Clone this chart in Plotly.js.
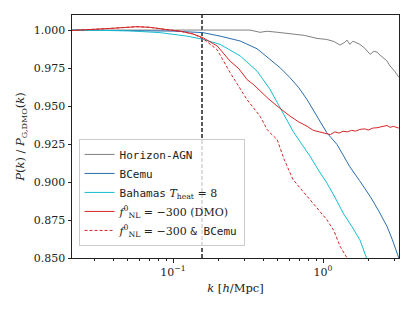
<!DOCTYPE html>
<html><head><meta charset="utf-8">
<script src="https://cdn.plot.ly/plotly-3.0.1.min.js"></script>
<style>html,body{margin:0;padding:0;background:#fff}#chart{width:415px;height:311px}</style>
</head><body><div id="chart"></div>
<script>
// Horizon-AGN
const kHz = [0.021, 0.05, 0.1, 0.158, 0.25, 0.326, 0.38, 0.424, 0.5, 0.631, 0.75, 0.912, 1.06, 1.18, 1.30, 1.40, 1.445, 1.51, 1.585, 1.68, 1.76, 1.9, 2.06, 2.18, 2.29, 2.4, 2.51, 2.65, 2.80, 3.0, 3.2];
const pHz = [1.000, 1.000, 1.000, 1.000, 1.0002, 1.0000, 0.9985, 0.9992, 0.9985, 0.9976, 0.9965, 0.9945, 0.9938, 0.9925, 0.9901, 0.9920, 0.9934, 0.9906, 0.9927, 0.9915, 0.9906, 0.9880, 0.9840, 0.9860, 0.9855, 0.9835, 0.9818, 0.9800, 0.9763, 0.9730, 0.9690];
// BCemu
const kBC = [0.021, 0.05, 0.1, 0.158, 0.206, 0.280, 0.363, 0.443, 0.52, 0.603, 0.69, 0.782, 0.912, 1.06, 1.24, 1.51, 1.75, 2.06, 2.35, 2.67, 2.9, 3.2];
const pBC = [1.000, 0.9998, 0.9993, 0.9983, 0.9960, 0.9928, 0.9877, 0.9807, 0.9750, 0.9686, 0.9620, 0.9543, 0.9433, 0.9324, 0.9247, 0.9100, 0.9010, 0.8906, 0.8810, 0.8708, 0.8620, 0.8500];
// Bahamas T_heat = 8
const kBH = [0.021, 0.05, 0.0819, 0.124, 0.158, 0.206, 0.280, 0.363, 0.443, 0.541, 0.631, 0.72, 0.819, 0.93, 1.06, 1.20, 1.36, 1.55, 1.76, 1.95];
const pBH = [1.000, 0.9995, 0.9983, 0.9960, 0.9939, 0.9906, 0.9830, 0.9730, 0.9610, 0.9457, 0.9334, 0.9250, 0.9170, 0.9080, 0.8994, 0.8900, 0.8797, 0.8710, 0.8620, 0.8500];
// f_NL = -300 (DMO)
const kNL = [0.021, 0.03, 0.04, 0.0575, 0.07, 0.0955, 0.111, 0.135, 0.158, 0.197, 0.24, 0.275, 0.311, 0.345, 0.38, 0.43, 0.494, 0.545, 0.603, 0.69, 0.782, 0.86, 0.95, 1.06, 1.12, 1.2, 1.28, 1.36, 1.45, 1.55, 1.65, 1.76, 1.9, 2.0, 2.15, 2.29, 2.45, 2.55, 2.67, 2.8, 2.95, 3.2];
const pNL = [0.9997, 1.0003, 1.0012, 1.0022, 1.0018, 1.0000, 0.9993, 0.9975, 0.9950, 0.9895, 0.9796, 0.9745, 0.9675, 0.9640, 0.9598, 0.9550, 0.9500, 0.9465, 0.9433, 0.9395, 0.9367, 0.9340, 0.9330, 0.9320, 0.9312, 0.9330, 0.9322, 0.9334, 0.9330, 0.9340, 0.9335, 0.9346, 0.9350, 0.9342, 0.9355, 0.9357, 0.9365, 0.9370, 0.9372, 0.9360, 0.9366, 0.9355];
// f_NL = -300 & BCemu
const kNB = [0.021, 0.03, 0.04, 0.0575, 0.07, 0.0955, 0.111, 0.135, 0.158, 0.197, 0.24, 0.311, 0.38, 0.424, 0.443, 0.494, 0.55, 0.631, 0.72, 0.819, 0.93, 1.06, 1.18, 1.30, 1.445];
const pNB = [0.9997, 1.0003, 1.0012, 1.0022, 1.0018, 1.0000, 0.9993, 0.9975, 0.9945, 0.9870, 0.9720, 0.9543, 0.9433, 0.9346, 0.9324, 0.9280, 0.9150, 0.9016, 0.8950, 0.8884, 0.8820, 0.8752, 0.8680, 0.8577, 0.8500];
const kCut = 0.156;
const yTicks = [0.850, 0.875, 0.900, 0.925, 0.950, 0.975, 1.000];
const xTicks = [0.1, 1];
const xTickText = ['10<sup>−1</sup>', '10<sup>0</sup>'];
const xMinor = [0.03,0.04,0.05,0.06,0.07,0.08,0.09,0.2,0.3,0.4,0.5,0.6,0.7,0.8,0.9,2,3];

const mono = '<span style="font-family:DejaVu Sans Mono">';
const traces = [
  {x:kHz, y:pHz, name: mono+'Horizon-AGN</span>', line:{color:'#808080', width:1}},
  {x:kBC, y:pBC, name: mono+'BCemu</span>', line:{color:'#2a6db0', width:1}},
  {x:kBH, y:pBH, name: mono+'Bahamas</span> <i>T</i><sub>heat</sub> = 8', line:{color:'#17becf', width:1}},
  {x:kNL, y:pNL, name: '<i>f</i><sup>0</sup><sub>NL</sub> = −300 (DMO)', line:{color:'#d62728', width:1}},
  {x:kNB, y:pNB, name: '<i>f</i><sup>0</sup><sub>NL</sub> = −300 '+mono+'& BCemu</span>', line:{color:'#d62728', width:1, dash:'3px,2px'}}
].map(t => Object.assign({type:'scatter', mode:'lines'}, t));

const layout = {
  width:415, height:311,
  margin:{l:72, r:16, t:15, b:53},
  paper_bgcolor:'#fff', plot_bgcolor:'#fff',
  font:{family:'DejaVu Serif', size:11, color:'#222'},
  showlegend:true,
  legend:{x:0.02, y:0.49, xanchor:'left', yanchor:'top', bgcolor:'rgba(255,255,255,0.8)', bordercolor:'#ccc', borderwidth:1, font:{family:'DejaVu Serif', size:11}, tracegroupgap:0},
  xaxis:{type:'log', range:[Math.log10(0.0212), Math.log10(3.21)], tickvals:xTicks, ticktext:xTickText,
    ticks:'outside', ticklen:3.5, tickcolor:'#222', showgrid:false, zeroline:false,
    showline:true, linecolor:'#222', linewidth:1, mirror:true,
    minor:{tickvals:xMinor, ticks:'outside', ticklen:2, tickcolor:'#222', showgrid:false},
    title:{text:'<i>k</i> [<i>h</i>/Mpc]', font:{size:11.5}, standoff:6}},
  yaxis:{range:[0.85, 1.0099], tickvals:yTicks, tickformat:'.3f',
    ticks:'outside', ticklen:3.5, tickcolor:'#222', showgrid:false, zeroline:false,
    showline:true, linecolor:'#222', linewidth:1, mirror:true,
    title:{text:'<i>P</i>(<i>k</i>) / <i>P</i><sub>G,DMO</sub>(<i>k</i>)', font:{size:11.5}, standoff:6}},
  shapes:[{type:'line', xref:'x', yref:'paper', x0:kCut, x1:kCut, y0:0, y1:1, line:{color:'#222', width:1.5, dash:'4px,2px'}, layer:'below'}]
};
Plotly.newPlot('chart', traces, layout, {staticPlot:true, displayModeBar:false});
</script></body></html>
